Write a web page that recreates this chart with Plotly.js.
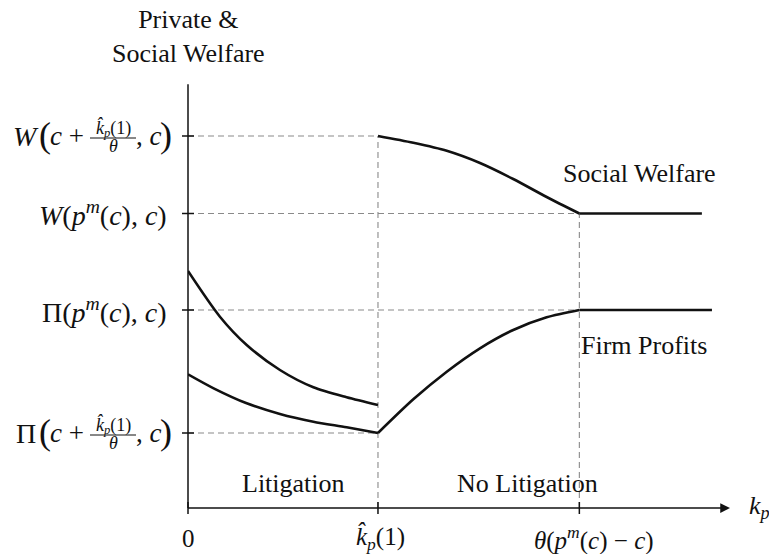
<!DOCTYPE html>
<html>
<head>
<meta charset="utf-8">
<script src="https://cdn.plot.ly/plotly-3.0.1.min.js"></script>
<style>
  html, body { margin: 0; padding: 0; background: #fff; }
  #chart { width: 769px; height: 554px; }
</style>
</head>
<body>
<div id="chart"></div>
<script>
// Key thresholds on the k_p axis
const kHat = 1.0;      // k̂_p(1)
const kMon = 2.06;     // θ(p^m(c) − c)
const xMax = 2.853;    // end of the horizontal axis
const yMax = 4.28;     // end of the vertical axis

// Welfare / profit levels marked on the vertical axis
const wHat = 3.72;     // W(c + k̂_p(1)/θ, c)
const wMon = 2.945;    // W(p^m(c), c)
const piMon = 1.98;    // Π(p^m(c), c)
const piHat = 0.75;    // Π(c + k̂_p(1)/θ, c)

// Litigation region (k_p < k̂_p(1))
const litUpperX = [0, 0.168, 0.309, 0.484, 0.66, 0.835, 1.0];
const litUpperY = [2.37, 1.913, 1.63, 1.38, 1.207, 1.107, 1.03];
const litLowerX = [0, 0.135, 0.309, 0.484, 0.66, 0.835, 1.0];
const litLowerY = [1.337, 1.197, 1.047, 0.94, 0.863, 0.807, 0.75];

// No-litigation region: social welfare and firm profits
const welfareX = [1.0, 1.186, 1.362, 1.537, 1.712, 1.888, 2.06, 2.705];
const welfareY = [3.72, 3.652, 3.572, 3.45, 3.29, 3.11, 2.945, 2.945];
const profitX = [1.0, 1.186, 1.362, 1.537, 1.712, 1.888, 2.06, 2.758];
const profitY = [0.75, 1.087, 1.363, 1.597, 1.78, 1.907, 1.98, 1.98];

// Axis tick labels
const xTickVals = [0, kHat, kMon];
const xTickText = [
  '0',
  '<i>k\u0302</i><sub><i>p</i></sub>(1)',
  '<i>θ</i>(<i>p</i><sup><i>m</i></sup>(<i>c</i>) − <i>c</i>)'
];
const xTickShift = [0, 3, 15];
const yTickVals = [piHat, piMon, wMon, wHat];
const yTickFn = ['Π', 'Π', '<i>W</i>', '<i>W</i>'];
const yTickStacked = [true, false, false, true];

const serif = '"Liberation Serif", "Times New Roman", serif';
const ink = '#111';
const guide = '#8a8a8a';

function curve(xs, ys, shape) {
  return {
    x: xs, y: ys, type: 'scatter', mode: 'lines',
    line: { color: ink, width: 2.6, shape: shape, smoothing: 0.8 },
    hoverinfo: 'skip', showlegend: false, cliponaxis: false
  };
}

const n = welfareX.length;
const m = profitX.length;
const traces = [
  curve(litUpperX, litUpperY, 'spline'),
  curve(litLowerX, litLowerY, 'spline'),
  curve(welfareX.slice(0, n - 1), welfareY.slice(0, n - 1), 'spline'),
  curve(welfareX.slice(n - 2), welfareY.slice(n - 2), 'linear'),
  curve(profitX.slice(0, m - 1), profitY.slice(0, m - 1), 'spline'),
  curve(profitX.slice(m - 2), profitY.slice(m - 2), 'linear')
];

// Dashed guide lines
const dash = { color: guide, width: 1.1, dash: '6px,4px' };
const shapes = [
  { type: 'line', xref: 'x', yref: 'y', x0: 0, x1: kHat, y0: wHat, y1: wHat, line: dash, layer: 'below' },
  { type: 'line', xref: 'x', yref: 'y', x0: 0, x1: kMon, y0: wMon, y1: wMon, line: dash, layer: 'below' },
  { type: 'line', xref: 'x', yref: 'y', x0: 0, x1: kMon, y0: piMon, y1: piMon, line: dash, layer: 'below' },
  { type: 'line', xref: 'x', yref: 'y', x0: 0, x1: kHat, y0: piHat, y1: piHat, line: dash, layer: 'below' },
  { type: 'line', xref: 'x', yref: 'y', x0: kHat, x1: kHat, y0: 0, y1: wHat, line: dash, layer: 'below' },
  { type: 'line', xref: 'x', yref: 'y', x0: kMon, x1: kMon, y0: 0, y1: wMon, line: dash, layer: 'below' }
];

// Axis lines (the arrowheads are added as annotations)
const axisLine = { color: ink, width: 1.5 };
shapes.push({ type: 'line', xref: 'paper', yref: 'paper', x0: 0, x1: 0.99, y0: 0, y1: 0, line: axisLine });
shapes.push({ type: 'line', xref: 'paper', yref: 'paper', x0: 0, x1: 0, y0: 0, y1: 0.99, line: axisLine });

// Tick marks crossing the axes
xTickVals.forEach(v => shapes.push({
  type: 'line', xref: 'paper', yref: 'paper',
  xsizemode: 'scaled', ysizemode: 'pixel', yanchor: 0,
  x0: v / xMax, x1: v / xMax, y0: -6, y1: 6, line: axisLine
}));
yTickVals.forEach(v => shapes.push({
  type: 'line', xref: 'paper', yref: 'paper',
  xsizemode: 'pixel', ysizemode: 'scaled', xanchor: 0,
  x0: -6, x1: 6, y0: v / yMax, y1: v / yMax, line: axisLine
}));

const annotations = [];
function txt(text, opts) {
  annotations.push(Object.assign({
    text: text, showarrow: false,
    font: { family: serif, size: 26, color: ink }
  }, opts));
}

// Arrowheads at the ends of both axes
annotations.push({
  x: xMax, y: 0, ax: -12, ay: 0, xref: 'x', yref: 'y',
  text: ' ', showarrow: true, arrowhead: 2, arrowsize: 1.3, arrowwidth: 1.5, arrowcolor: ink
});
annotations.push({
  x: 0, y: yMax, ax: 0, ay: 12, xref: 'x', yref: 'y',
  text: ' ', showarrow: true, arrowhead: 2, arrowsize: 1.3, arrowwidth: 1.5, arrowcolor: ink
});

// Horizontal tick labels
xTickVals.forEach((v, i) => txt(xTickText[i], {
  xref: 'x', yref: 'y', x: v, y: 0, xanchor: 'center', yanchor: 'middle',
  xshift: xTickShift[i], yshift: -30, font: { family: serif, size: 25, color: ink }
}));

// Vertical tick labels
yTickVals.forEach((v, i) => {
  const base = { xref: 'paper', yref: 'y', x: 0, y: v, yanchor: 'middle' };
  if (!yTickStacked[i]) {
    txt(yTickFn[i] + '(<i>p</i><sup><i>m</i></sup>(<i>c</i>), <i>c</i>)',
      Object.assign({}, base, { xanchor: 'right', xshift: -19,
        font: { family: serif, size: 28, color: ink } }));
    return;
  }
  txt(yTickFn[i], Object.assign({}, base, { xanchor: 'center', xshift: -162,
    font: { family: serif, size: 28, color: ink } }));
  txt('(', Object.assign({}, base, { xanchor: 'center', xshift: -143, yshift: 1,
    font: { family: serif, size: 36, color: ink } }));
  txt('<i>c</i> +', Object.assign({}, base, { xanchor: 'center', xshift: -121,
    font: { family: serif, size: 27, color: ink } }));
  txt('<i>k\u0302</i><sub><i>p</i></sub>(1)', Object.assign({}, base, { xanchor: 'center', xshift: -75, yshift: 8,
    font: { family: serif, size: 18, color: ink } }));
  txt('<i>θ</i>', Object.assign({}, base, { xanchor: 'center', xshift: -75, yshift: -10,
    font: { family: serif, size: 18, color: ink } }));
  txt(', <i>c</i>', Object.assign({}, base, { xanchor: 'center', xshift: -39,
    font: { family: serif, size: 27, color: ink } }));
  txt(')', Object.assign({}, base, { xanchor: 'center', xshift: -22, yshift: 1,
    font: { family: serif, size: 36, color: ink } }));
  shapes.push({
    type: 'line', xref: 'paper', yref: 'paper',
    xsizemode: 'pixel', ysizemode: 'pixel', xanchor: 0, yanchor: v / yMax,
    x0: -98, x1: -52, y0: -2, y1: -2, line: { color: ink, width: 1 }
  });
});

// Axis titles
txt('Private &amp;<br>Social Welfare', {
  xref: 'paper', yref: 'paper', x: 0, y: 1, xanchor: 'center', yanchor: 'middle', yshift: 44
});
txt('<i>k</i><sub><i>p</i></sub>', {
  xref: 'x', yref: 'y', x: xMax, y: 0, xanchor: 'left', yanchor: 'middle', xshift: 17, yshift: 1
});

// Curve and region labels
txt('Social Welfare', { xref: 'x', yref: 'y', x: kMon, y: wMon, xanchor: 'left', yanchor: 'middle', xshift: -18, yshift: 40 });
txt('Firm Profits', { xref: 'x', yref: 'y', x: kMon, y: piMon, xanchor: 'left', yanchor: 'middle', xshift: 0, yshift: -35 });
txt('Litigation', { xref: 'x', yref: 'y', x: kHat / 2, y: 0, xanchor: 'center', yanchor: 'middle', xshift: 11, yshift: 25 });
txt('No Litigation', { xref: 'x', yref: 'y', x: (kHat + kMon) / 2, y: 0, xanchor: 'center', yanchor: 'middle', xshift: 49, yshift: 25 });

const layout = {
  width: 769, height: 554,
  margin: { l: 188, r: 39, t: 80, b: 46, pad: 0 },
  paper_bgcolor: '#fff', plot_bgcolor: '#fff',
  showlegend: false,
  xaxis: { range: [0, xMax], visible: false, fixedrange: true },
  yaxis: { range: [0, yMax], visible: false, fixedrange: true },
  shapes: shapes,
  annotations: annotations
};

Plotly.newPlot('chart', traces, layout, { displayModeBar: false, staticPlot: true });
</script>
</body>
</html>
